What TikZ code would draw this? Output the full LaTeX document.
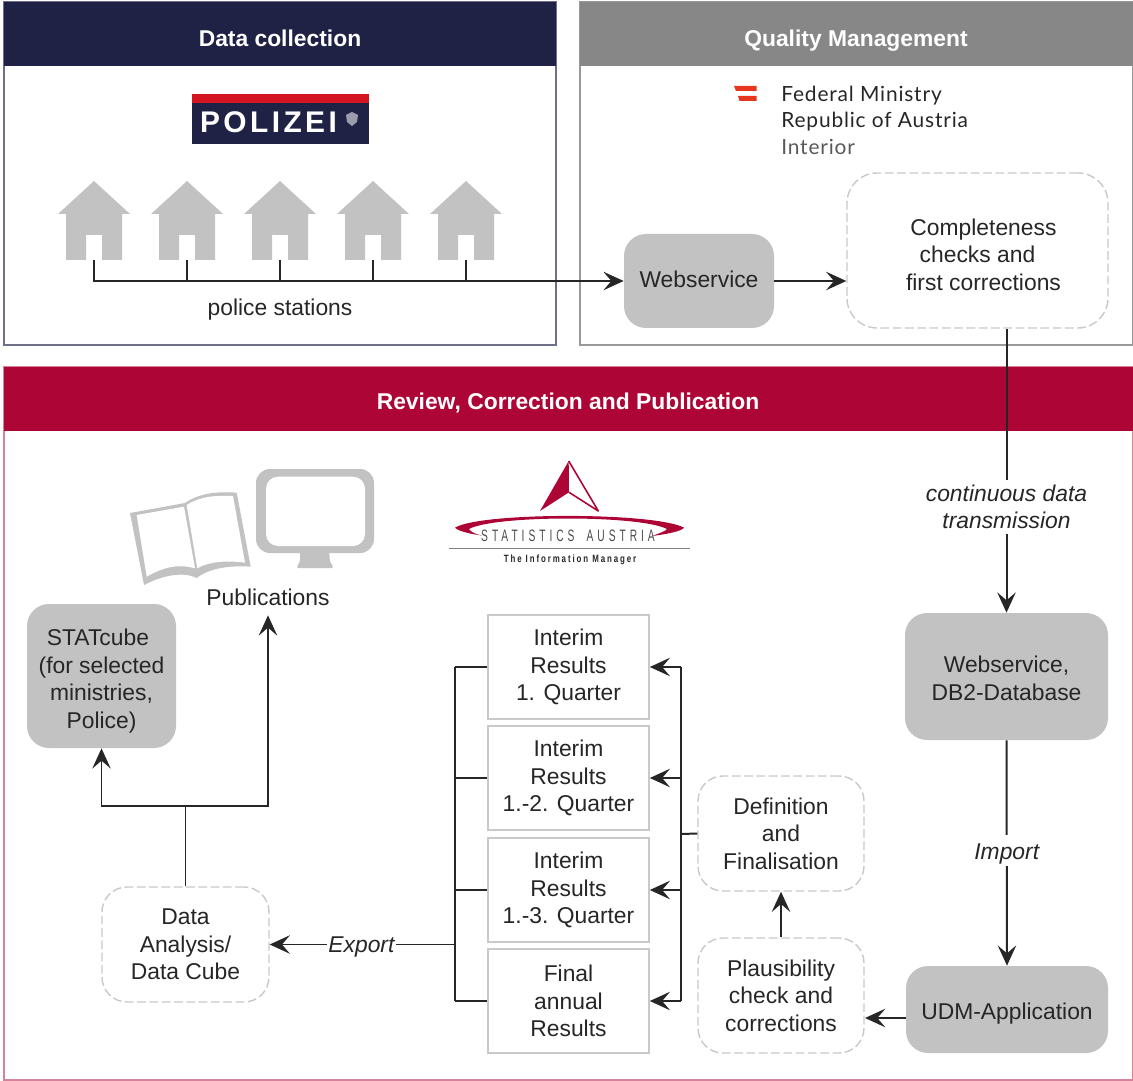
\documentclass[tikz,border=0pt]{standalone}
\usepackage{fontspec}
\setmainfont{Liberation Sans}
\newfontfamily\ministryfont[LetterSpace=4]{Lato}
\newfontfamily\statfont[FakeStretch=0.62,LetterSpace=24]{Liberation Sans}
\newfontfamily\claimfont[FakeStretch=0.75,LetterSpace=18]{Liberation Sans}
\newfontfamily\polizeifont[LetterSpace=11.5]{Liberation Sans}
\usetikzlibrary{arrows.meta}

\definecolor{navyhead}{HTML}{1F2245}
\definecolor{greyhead}{HTML}{878787}
\definecolor{crimsonhead}{HTML}{AE0537}
\definecolor{boxgrey}{HTML}{C2C2C2}
\definecolor{dashgrey}{HTML}{C9C9C9}
\definecolor{flagred}{HTML}{E6361D}
\definecolor{polizeired}{HTML}{D2151F}

\tikzset{
    boxsize/.style 2 args={minimum width=#1*0.02cm, minimum height=#2*0.02cm},
    label13/.style={font=\fontsize{13}{15.7}\selectfont, align=center, text=black!85},
    italic13/.style={font=\fontsize{13}{15.7}\selectfont\itshape, align=center, text=black!85},
    headbar/.style={font=\fontsize{13}{15.7}\selectfont\bfseries, text=white, inner sep=0pt, text height=9.4pt, text depth=0pt},
    solidbox/.style={label13, fill=boxgrey, rounded corners=0.44cm, inner sep=0pt},
    dashbox/.style={label13, draw=dashgrey, line width=0.8pt, dash pattern=on 5pt off 2pt, fill=white, rounded corners=0.5cm, inner sep=0pt},
    resultbox/.style={label13, draw=dashgrey, line width=0.9pt, fill=white, inner sep=0pt},
    wireline/.style={line width=1.13pt, draw=black!85},
    arrowline/.style={wireline, -{Stealth[length=11.5pt, width=10.5pt, inset=4.5pt]}},
    housegrey/.style={fill=boxgrey, draw=none},
    ministryline/.style={anchor=west, inner sep=0pt, font=\fontsize{11.9}{14}\ministryfont}
}

\begin{document}
\begin{tikzpicture}[x=0.02cm, y=-0.02cm]

    \useasboundingbox (0, 0) rectangle (1133, 1081);

    % --- Panels ---
    % Data collection
    \draw[draw=navyhead!65, line width=0.8pt] (4, 2) rectangle (556, 345);
    \fill[navyhead] (4, 2) rectangle (556, 66);
    \node[headbar] (headcollect) at (280, 38) {Data collection};
    % Quality management
    \draw[draw=black!40, line width=0.8pt] (580, 2) rectangle (1133, 345);
    \fill[greyhead] (580, 2) rectangle (1133, 66);
    \node[headbar] (headquality) at (856, 38) {Quality Management};
    % Review
    \draw[draw=crimsonhead!50, line width=0.8pt] (4, 367) rectangle (1133, 1080);
    \fill[crimsonhead] (4, 367) rectangle (1133, 431);
    \node[headbar] (headreview) at (568, 401) {Review, Correction and Publication};

    % --- Police logo ---
    \fill[navyhead] (192, 94) rectangle (369, 144);
    \fill[polizeired] (192, 94) rectangle (369, 103);
    \node[text=white, font=\fontsize{17}{18}\polizeifont\bfseries, inner sep=0pt] (polizei) at (268.5, 122.5) {POLIZEI};
    \fill[white!55!navyhead] (352, 112) -- (358, 115) -- (357, 122) -- (352, 126) -- (347, 122) -- (346, 115) -- cycle;

    % --- Police stations ---
    \foreach \i/\hx in {1/94, 2/187, 3/280, 4/373, 5/466} {
        \fill[housegrey] (\hx, 181) -- (\hx+36, 214) -- (\hx+28, 214) -- (\hx+28, 260)
            -- (\hx+8, 260) -- (\hx+8, 235) -- (\hx-8, 235) -- (\hx-8, 260)
            -- (\hx-28, 260) -- (\hx-28, 214) -- (\hx-36, 214) -- cycle;
        \coordinate (house\i) at (\hx, 260);
    }
    \node[label13, inner sep=0pt, text height=9.4pt, text depth=0pt] (stations) at (280, 307) {police stations};

    % --- Ministry logo ---
    \fill[flagred] (734, 86) -- (756.5, 86) -- (756.5, 91) -- (736, 91) -- cycle;
    \fill[flagred] (738, 96) -- (756.5, 96) -- (756.5, 101) -- (739.5, 101) -- cycle;
    \node[ministryline, text=black!85] (ministry1) at (781, 95.5) {Federal Ministry};
    \node[ministryline, text=black!85] (ministry2) at (781, 121.5) {Republic of Austria};
    \node[ministryline, text=black!65] (ministry3) at (781, 147) {Interior};

    % --- Publication icons ---
    % Book
    \fill[boxgrey] (130, 513) -- (185, 503) .. controls (198, 494) and (215, 491) .. (236.7, 492.7)
        -- (250.7, 566.7) .. controls (228, 565) and (208, 569) .. (196.7, 578) .. controls (185, 572) and (165, 574) .. (144, 585) -- cycle;
    \fill[white] (136.7, 515) -- (184, 506.7) -- (195, 568.3) .. controls (180, 564) and (165, 566) .. (146.7, 576.7) -- cycle;
    \fill[white] (186.7, 505) .. controls (198, 497) and (215, 495) .. (233, 496) -- (245, 562.7) .. controls (225, 560) and (208, 562) .. (197.3, 568.3) -- cycle;
    % Monitor
    \fill[boxgrey, rounded corners=0.28cm] (256, 469) rectangle (374, 553);
    \fill[white, rounded corners=0.24cm] (266, 476.7) rectangle (365, 546);
    \fill[boxgrey, rounded corners=1.5pt] (300, 550) -- (329, 550) -- (330, 562) -- (334, 568) -- (296, 568) -- (300, 562) -- cycle;

    % --- Statistics Austria logo ---
    \fill[crimsonhead] (568.7, 461) -- (569, 492.3) -- (540, 511) -- cycle;
    \draw[crimsonhead, line width=0.9pt, line join=round] (568.7, 461) -- (598.3, 511) -- (569, 492.3);
    \fill[crimsonhead] (455, 527.7) .. controls (480, 512) and (655, 512) .. (684, 527.7)
        .. controls (682, 531) and (668, 534) .. (652, 536)
        .. controls (660, 533) and (666, 531) .. (667, 529)
        .. controls (640, 515) and (495, 515) .. (469, 529)
        .. controls (470, 531) and (474, 534) .. (482, 535.5)
        .. controls (470, 534) and (458, 531) .. (455, 527.7) -- cycle;
    \node[inner sep=0pt, text=black!70, font=\fontsize{9.4}{10}\statfont] (statname) at (568, 536) {STATISTICS\hspace{3pt} AUSTRIA};
    \draw[black!50, line width=0.5pt] (449, 548) -- (690, 548);
    \node[inner sep=0pt, text=black!85, font=\fontsize{6}{7}\claimfont\bfseries] (statclaim) at (570, 559.5) {The Information Manager};

    % --- Process boxes ---
    \node[solidbox, boxsize={150}{94}, text height=9.4pt, text depth=2.3pt] (web) at (699, 281) {Webservice};
    \node[dashbox, boxsize={261}{155}, rounded corners=0.6cm] (complete) at (977.5, 250.5)
        {\hspace*{6.8pt}\rule{0pt}{14pt}Completeness\\checks and\\\hspace*{6.8pt}first corrections};
    \node[solidbox, boxsize={203}{127}] (db) at (1006.5, 676.5) {\rule{0pt}{11.7pt}Webservice,\\DB2-Database};
    \node[solidbox, boxsize={202}{87}, text height=11.4pt, text depth=0pt] (udm) at (1007, 1009.5) {UDM-Application};
    \node[dashbox, boxsize={166}{115}] (plaus) at (781, 995.5) {Plausibility\\check and\\corrections};
    \node[dashbox, boxsize={166}{115}] (finalise) at (781, 833.5) {Definition\\and\\Finalisation};
    \node[resultbox, boxsize={161}{104}] (res1) at (568.5, 667) {Interim\\Results\\1. Quarter};
    \node[resultbox, boxsize={161}{104}] (res2) at (568.5, 778) {Interim\\Results\\1.-2. Quarter};
    \node[resultbox, boxsize={161}{104}] (res3) at (568.5, 890) {Interim\\Results\\1.-3. Quarter};
    \node[resultbox, boxsize={161}{104}] (res4) at (568.5, 1001) {Final\\annual\\Results};
    \node[dashbox, boxsize={167}{115}] (cube) at (185.5, 944.5) {Data\\Analysis/\\Data Cube};
    \node[solidbox, boxsize={149}{144}] (statcube) at (101.5, 676) {\rule{0pt}{15pt}STATcube\hspace{4pt}\mbox{}\\(for selected\\ministries,\\Police)};
    \node[label13, inner sep=0pt, minimum height=36*0.02cm] (pub) at (268, 597) {Publications};

    % --- Junction points ---
    \coordinate (busright) at (681, 834);
    \coordinate (busleft) at (455, 834);
    \coordinate (fork) at (185.5, 806);
    \coordinate (plausin) at (865, 1018);

    % --- Connectors ---
    % Police stations to webservice
    \draw[arrowline] (house1) |- (web.west);
    \foreach \i in {2, 3, 4, 5} {
        \draw[wireline] (house\i) -- (house\i |- web.west);
    }
    \draw[arrowline] (web.east) -- (web.east -| complete.west);
    % Down the right side
    \draw[arrowline] (db.north |- complete.south) -- node[pos=0.628, fill=white, italic13, inner xsep=0pt, inner ysep=3pt] (transmit) {continuous data\\transmission} (db.north);
    \draw[arrowline] (db.south) -- node[pos=0.49, fill=white, italic13, inner sep=4pt, text height=9.4pt, text depth=0pt] (import) {Import} (udm.north);
    \draw[arrowline] (udm.west |- plausin) -- (plausin);
    \draw[arrowline] (plaus.north) -- (finalise.south);
    % Results
    \draw[wireline] (finalise.west) -- (busright);
    \draw[wireline] (busright |- res1.east) -- (busright |- res4.east);
    \draw[wireline] (busleft |- res1.west) -- (busleft |- res4.west);
    \foreach \i in {1, 2, 3, 4} {
        \draw[arrowline] (busright |- res\i.east) -- (res\i.east);
        \draw[wireline] (res\i.west) -- (busleft |- res\i.west);
    }
    % Export and publication
    \draw[arrowline] (busleft |- cube.east) -- node[pos=0.505, fill=white, italic13, inner sep=1pt, text height=9.4pt, text depth=0pt] (export) {Export} (cube.east);
    \draw[wireline] (cube.north) -- (fork);
    \draw[arrowline] (fork) -| (statcube.south);
    \draw[arrowline] (fork) -| (pub.south);

\end{tikzpicture}
\end{document}
